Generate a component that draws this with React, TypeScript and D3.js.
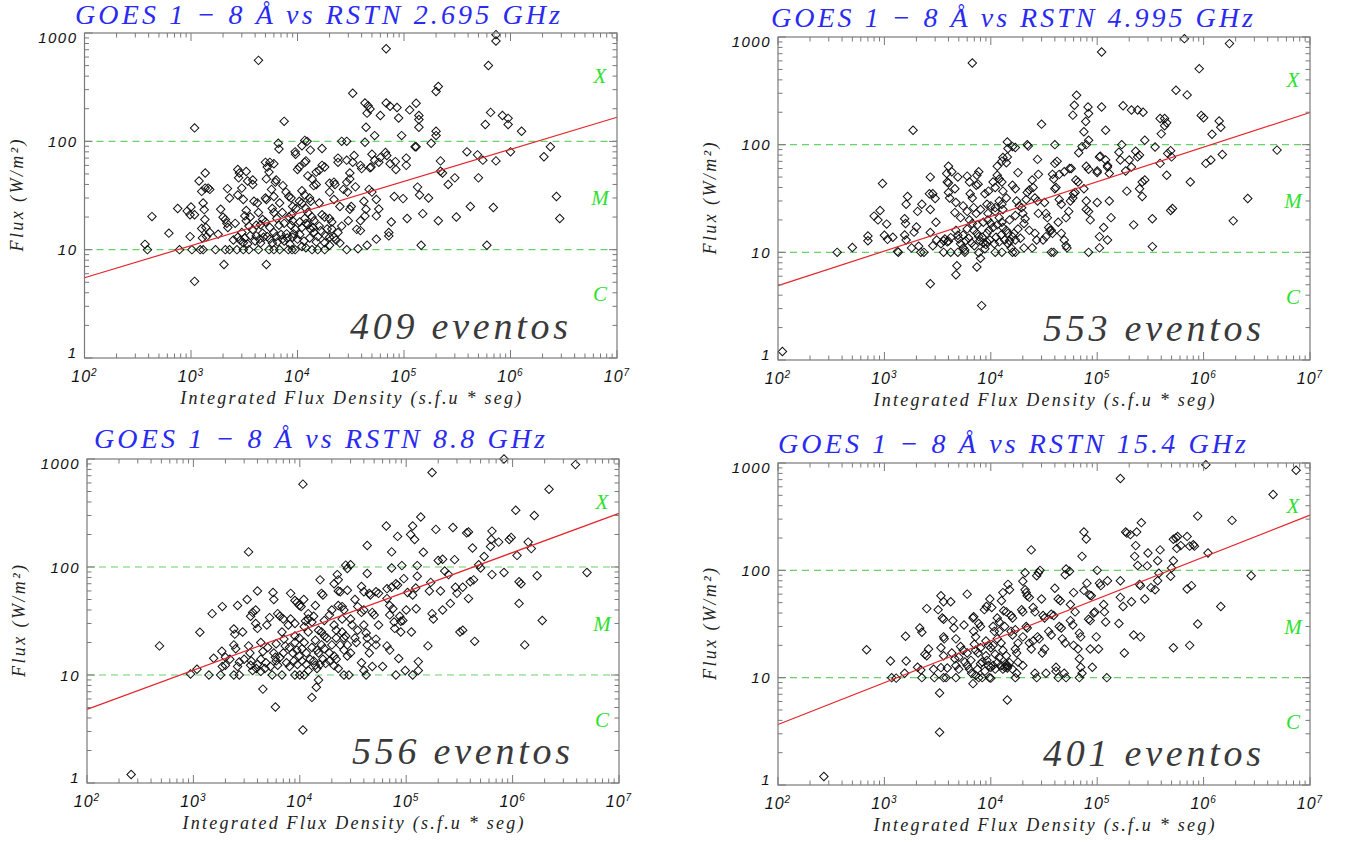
import React from 'react';
import * as d3 from 'd3';

const W = 1349;
const H = 841;

// ---- chart text ----
const titles = [
  'GOES 1 \u2212 8 \u00c5 vs RSTN 2.695 GHz',
  'GOES 1 \u2212 8 \u00c5 vs RSTN 4.995 GHz',
  'GOES 1 \u2212 8 \u00c5 vs RSTN 8.8 GHz',
  'GOES 1 \u2212 8 \u00c5 vs RSTN 15.4 GHz',
];
const eventCounts = [409, 553, 556, 401];
const xTitle = 'Integrated Flux Density (s.f.u * seg)';
const yTitle = 'Flux (W/m\u00b2)';

// ---- axes ----
const xDomain = [1e2, 1e7];
const yDomain = [1, 1000];
const xTickExponents = [2, 3, 4, 5, 6, 7];
const yTickValues = [1, 10, 100, 1000];
const yTickLabels = ['1', '10', '100', '1000'];

// GOES flare classes
const classLetters = ['X', 'M', 'C'];
const classLetterValues = [400, 30, 3.9];
const classBoundaries = [10, 100];

// fitted power laws, [x, flux] at both ends of the axis
const fitLines = [
  [[1e2, 5.5], [1e7, 167]],
  [[1e2, 4.9], [1e7, 199]],
  [[1e2, 4.8], [1e7, 314]],
  [[1e2, 3.66], [1e7, 327]],
];

// ---- events: [integrated flux density, GOES flux] ----
const events2695 = [
  [7.3e5,966],[7.3e5,843],[6.8e4,716],[4.3e3,559],[6.2e5,501],[3.3e4,278],[2.1e5,321],[2.0e5,288],[4.3e4,226],[4.6e4,213],
  [6.8e4,226],[7.4e4,211],[8.6e4,205],[1.3e5,225],[1.13e5,195],[4.8e4,199],[4.5e4,182],[6e4,173],[8.9e4,164],[1.38e5,173],
  [1.38e5,159],[1.38e5,135],[6.5e5,185],[8.4e5,173],[9.5e5,163],[9.5e5,143],[5.8e5,143],[1.27e6,124],[4.4e4,135],[7.5e3,153],
  [1.08e3,133],[2.0e5,124],[2.0e5,113],[5.3e4,113],[9.5e4,113],[1.8e5,96],[1.27e5,89],[1.3e5,89],[4.3e4,98],[2.6e4,100],
  [2.9e4,100],[1.17e4,102],[1.23e4,100],[1.1e4,91],[6.6e3,96],[6.7e3,85],[9.5e3,80],[9.6e3,76],[1.32e4,83],[1.7e4,86],
  [1e6,80],[2.37e6,89],[2.06e6,72],[3.9e5,80],[4.9e5,75],[5.5e5,67],[7.3e5,66],[2.2e5,66],[2.2e5,53],[2.3e5,51],
  [3e5,46],[2.6e5,40],[5e5,46],[4.2e5,25],[3.1e5,20],[2.1e5,18.5],[6.9e5,24.5],[2.7e6,31],[2.9e6,19.4],[6e5,11],
  [1.45e5,11],[1.5e5,21.5],[1.7e5,30],[1.07e5,19.4],[9.8e4,29.6],[8.1e4,31],[1.34e5,37.8],[1.4e5,32],[1.05e5,70],[1.05e5,60],
  [8.3e4,65],[8.4e4,55],[7.4e4,62],[6.7e4,79],[6.9e4,74],[6e4,71],[5.8e4,64],[5e4,76],[5.3e4,67],[4.8e4,57],
  [4.9e4,58],[3.9e4,60],[4e4,56],[3.4e4,74],[3.3e4,64],[2.9e4,67],[3.1e4,51],[2.4e4,70],[2.4e4,64],[3.5e4,38],
  [2.9e4,42],[3.1e4,45],[4.2e4,28],[4.4e4,23.6],[4.3e4,20.5],[4.7e4,36],[5e4,34],[5.5e4,29],[5.8e4,23.7],[5.5e4,20.5],
  [7.2e4,14.4],[7.2e4,13.4],[7.6e4,18],[5.5e4,12.5],[4.5e4,11],[3.7e4,10.2],[2.9e4,10],[3.6e4,15.4],[3.9e4,15],[3.9e4,18.5],
  [3.1e4,23.6],[3.2e4,25],[2.6e4,16.5],[3e4,18.5],[2.4e4,14.4],[2.3e4,12.3],[2.1e4,15.5],[2e4,19.4],[2.1e4,18],[2.5e4,25],
  [2.5e4,11.5],[1.85e4,13.4],[1.8e4,11.6],[1.8e4,10],[1.55e4,10],[1.37e4,10],[1.2e4,10.4],[9.5e3,10],[8.9e3,10],[8.2e3,10],
  [6.8e3,10],[6e3,10],[5.4e3,10],[4.3e3,10],[3.5e3,10],[3.1e3,10],[2.7e3,10],[2.3e3,10],[2.1e3,10],[1.7e3,10],
  [1.3e3,10],[1.22e3,10],[1.02e3,10],[7.8e2,10],[3.9e2,10],[3.7e2,11.2],[4.3e2,20.2],[6.2e2,14.2],[7.5e2,24],[9.2e2,22.7],
  [1e3,24.8],[9.8e2,21],[1.08e3,21],[9.8e2,13.2],[1.08e3,5.1],[2.04e3,7.3],[5.1e3,7.3],[1.19e3,43],[1.36e3,51],[1.26e3,34.5],
  [1.36e3,37],[1.3e3,27],[1.33e3,23.4],[1.45e3,37],[1.5e3,36],[1.35e3,19],[1.38e3,16],[1.26e3,15.7],[1.28e3,12.8],[1.5e3,14.4],
  [1.4e3,13.2],[1.9e3,23.6],[2e3,19.9],[2.1e3,19],[2.17e3,17.5],[2.22e3,16],[1.8e3,13.9],[2.2e3,36.6],[2.3e3,30],[2.75e3,55],
  [2.85e3,51],[2.8e3,46],[2.75e3,32],[3e3,37],[3.3e3,52.7],[3.4e3,43],[3.8e3,44],[3.8e3,40],[3.3e3,23],[3.6e3,20],
  [3.3e3,18.5],[3.1e3,29],[3.9e3,28],[4.2e3,27],[4.3e3,22],[3.8e3,15.3],[4.1e3,16.8],[3e3,14.4],[2.75e3,13],[2.5e3,12.3],
  [3.1e3,11.6],[3.4e3,11.3],[4.1e3,13.4],[4.4e3,12.5],[4.7e3,14.2],[5.2e3,13.2],[4.7e3,19],[5e3,18],[5e3,64],[5.2e3,58],
  [5.1e3,45],[5.5e3,64],[6e3,62],[5.4e3,52],[5e3,30],[5.1e3,29],[5.7e3,36],[6.3e3,44],[6.2e3,42],[6e3,31],
  [6.8e3,27],[7.3e3,39],[7.8e3,34],[8.3e3,31],[8.7e3,30],[6e3,22],[6.4e3,19.4],[6.7e3,16.8],[6e3,14.4],[6.3e3,13.2],
  [5.8e3,11.5],[7.2e3,12.5],[7.9e3,14],[7.5e3,12],[8.7e3,16.8],[9.5e3,15.5],[9.2e3,14],[1e4,12.5],[1.1e4,10.7],[8.3e3,20],
  [8.8e3,21],[9e3,25],[9.7e3,24],[1.04e4,28],[1.1e4,27],[1e4,55],[1.04e4,58],[1.1e4,35],[1.17e4,32],[1.17e4,64],
  [1.2e4,66],[1.25e4,48],[1.37e4,45],[1.5e4,52],[1.6e4,54],[1.7e4,60],[1.8e4,58],[1.3e4,30],[1.33e4,28],[1.42e4,39],
  [1.5e4,40],[1.6e4,27],[1.7e4,21],[1.8e4,20],[1.25e4,22],[1.37e4,20],[1.43e4,18.5],[1.17e4,19.4],[1.2e4,17.5],[1.1e4,16],
  [1.32e4,15.5],[1.43e4,14.4],[1.55e4,13.2],[1.65e4,15],[1.9e4,15.5],[2e4,41],[2.2e4,42],[2.25e4,40],[2e4,34],[2.2e4,29],
  [2.7e4,36],[2.95e4,34],[2e4,11],[2e4,13],[2.2e4,13],
  [2.9e3,12.2],[3.2e3,12.8],[3.6e3,13.5],[4e3,12],[4.5e3,11.5],[4.8e3,13],[5.5e3,12.5],[6.5e3,11.8],[7e3,13.8],[8e3,12.8],
  [8.5e3,11.2],[9e3,13],[1.05e4,13.8],[1.15e4,12],[1.3e4,12.8],[1.5e4,11.8],[1.6e4,16.5],[1.4e4,16],[1.25e4,17],[1.05e4,18],
  [9e3,18.5],[7.5e3,17.5],[5.5e3,16],[4.5e3,17],[3.5e3,16.5],[2.6e3,17.5],[3.2e3,20.5],[5.8e3,24],[7.2e3,22],[1.2e4,24],
];

const events4995 = [
  [1.1e2,1.2],[3.6e2,10],[5e2,11.1],[7e2,12.8],[7e2,14.2],[8e2,21.7],[8.7e2,20],[9.1e2,24.5],[9.6e2,43.6],[1e3,14.4],
  [1.07e3,13.2],[1.05e3,18.3],[1.2e3,13.8],[1.35e3,10],[1.33e3,10.2],[1.6e3,28],[1.65e3,33],[1.55e3,20.5],[1.58e3,18.5],[1.6e3,13],
  [1.55e3,14.5],[1.86e3,136],[2e3,17.2],[1.9e3,15.4],[2.1e3,11.4],[1.8e3,11],[2.05e3,24],[2.25e3,28],[2.35e3,10],[2.2e3,10],
  [2.7e3,50],[2.65e3,35],[2.7e3,5.1],[2.85e3,35],[3e3,31.6],[3.05e3,19],[2.7e3,25],[2.7e3,15.3],[3.6e3,10],[4.2e3,10],
  [4.9e3,10],[5.7e3,10],[2.85e3,11.5],[3.1e3,13],[4e3,63],[3.85e3,54],[3.9e3,45],[4e3,44],[4.3e3,56],[4.6e3,39],
  [4e3,36],[4.1e3,32],[4.7e3,29],[4.6e3,23.4],[4.8e3,7.5],[4.7e3,6.2],[4.9e3,50],[3.7e3,13.3],[3.6e3,12.8],[4e3,12.7],
  [4.2e3,13.7],[3.4e3,12],[3.9e3,12.5],[4.7e3,16],[4.9e3,14.4],[5e3,13.3],[5.5e3,11],[5.7e3,10.5],[6e3,51],[6.3e3,45],
  [6.4e3,35],[6.7e3,32],[6.7e3,574],[6.9e3,26],[7.3e3,23],[6.3e3,20],[6.7e3,18.5],[6.9e3,16],[7.4e3,15],[7.7e3,14],
  [7.4e3,52],[7.7e3,56],[7.3e3,42],[7.6e3,43],[7.4e3,7.3],[8.2e3,3.2],[8e3,8.8],[7.7e3,9.9],[8.5e3,12.2],[9.2e3,12.5],
  [8.8e3,10.8],[9.2e3,15],[9.6e3,16],[9.4e3,20],[1e4,18.5],[1.05e4,17],[9.4e3,23],[1e4,27],[9.2e3,28],[8.8e3,35],
  [9.5e3,37],[1.05e4,45],[1.1e4,40],[1.15e4,52],[1.2e4,48],[1.27e4,45],[1.15e4,63],[1.27e4,70],[1.3e4,76],[1.4e4,68],
  [1.43e4,77],[1.43e4,106],[1.45e4,92],[1.6e4,96],[1.7e4,94],[1.8e4,55],[1.6e4,42],[1.7e4,39],[1.3e4,37],[1.4e4,32],
  [1.2e4,30],[1.27e4,28],[1.3e4,25],[1.1e4,24],[1.2e4,21],[1.27e4,19],[1.3e4,17],[1.4e4,16],[1.45e4,15],[1.6e4,14],
  [1.7e4,13],[1.27e4,10],[1.1e4,10],[1.6e4,10],[1.7e4,10],[1.45e4,12],[1.55e4,11],[1.75e4,30],[1.85e4,27],[1.95e4,26],
  [2e4,23],[2.1e4,20.5],[2.05e4,18.5],[2.15e4,31],[2.2e4,36],[2.3e4,38],[2.2e4,100],[2.25e4,97],[2.45e4,47],[2.5e4,40],
  [2.6e4,32],[2.75e4,30],[2.8e4,23],[2.3e4,16],[2.6e4,15],[2.7e4,13],[2.05e4,11],[2.45e4,11],[2.8e4,53],[3e4,155],
  [2.75e4,73],[3.2e4,29],[3.3e4,23],[3.4e4,21],[3.5e4,17],[3.6e4,16],[3.1e4,13],[3.3e4,14],[3.8e4,53],[3.9e4,48],
  [4e4,67],[4.2e4,70],[4e4,100],[4e4,39],[4.1e4,40],[4.4e4,31],[4.6e4,28],[4.3e4,19],[3.8e4,15],[3.7e4,16],
  [3.9e4,10],[3.7e4,10],[4.4e4,53],[4.9e4,56],[4.6e4,15],[4.9e4,13],[5.1e4,11.5],[5.2e4,11],[5.1e4,21],[5.4e4,24],
  [5.6e4,30],[5.9e4,32],[6e4,35],[6.2e4,36],[6.3e4,47],[6.6e4,45],[6.7e4,84],[7.2e4,96],[5.5e4,60],[5.7e4,60],
  [6.4e4,288],[6.1e4,232],[5.9e4,188],[7.5e4,132],[7.8e4,164],[8.2e4,224],[8.3e4,195],[7.9e4,100],[8.3e4,110],[7.9e4,63],
  [8.3e4,59],[7.9e4,25],[8.3e4,24],[8.6e4,20],[8.3e4,10],[7.9e4,30],[7.5e4,39],[1e5,29],[1.05e5,77],[1.07e5,78],
  [1e5,57],[1e5,55],[1.1e5,224],[1.2e5,136],[1.1e5,725],[1.2e5,72],[1.25e5,64],[1.25e5,62],[1.3e5,54],[1.05e5,11],
  [1.05e5,14],[1.15e5,17],[1.25e5,13],[1.3e5,30],[1.35e5,21],[1.6e5,85],[1.65e5,72],[1.7e5,100],[1.75e5,230],[1.85e5,57],
  [1.9e5,37],[2e5,72],[2.1e5,62],[2.1e5,210],[2.4e5,210],[2.7e5,200],[2.2e5,18],[2.3e5,87],[2.4e5,77],[2.5e5,80],
  [2.5e5,39],[2.65e5,33],[2.65e5,45],[2.8e5,47],[2.8e5,110],[3.3e5,20.5],[3.3e5,11.3],[3.5e5,95],[3.9e5,67],[4e5,126],
  [3.9e5,175],[4.3e5,175],[4.3e5,150],[4.5e5,160],[4.5e5,52],[4.6e5,83],[4.9e5,88],[5e5,77],[4.9e5,24.5],[5.1e5,25.5],
  [5.5e5,320],[7e5,290],[6.6e5,965],[7.5e5,45],[9.1e5,508],[9.5e5,187],[1e6,178],[1.05e6,67],[1.17e6,72],[1.2e6,125],
  [1.4e6,166],[1.45e6,145],[1.5e6,81],[1.75e6,868],[1.9e6,19.6],[2.6e6,31.6],[4.9e6,89],
  [5.2e3,12],[5.8e3,12.8],[6.2e3,13.5],[6.6e3,12.2],[7e3,11.5],[7.9e3,12.8],[8.3e3,13.8],[9e3,11.8],[9.8e3,13],[1.08e4,12],
  [1.12e4,13.8],[1.2e4,12.5],[1.25e4,14.5],[1.35e4,13],[1.5e4,12.8],[1.65e4,15],[1.8e4,16.5],[1.9e4,13.5],[5.5e3,14.5],[6e3,16.5],
  [7.5e3,18],[8.5e3,19],[1.15e4,18],[1.5e4,20],[1.7e4,22],[1.1e4,26],[8e3,25],[6e3,24],[5.2e3,21],[5.5e3,27],
];

const events88 = [
  [2.6e2,1.2],[4.8e2,18.6],[9.4e2,10.2],[1.08e3,11.3],[1.15e3,24.9],[1.4e3,10],[1.55e3,14.3],[1.5e3,37],[1.87e3,43],[1.85e3,16.6],
  [1.87e3,12],[1.8e3,10],[2e3,14.6],[2.2e3,14],[2e3,12.3],[2.4e3,26.7],[2.45e3,23.9],[2.6e3,44],[2.4e3,19],[2.5e3,17.5],
  [2.4e3,10],[2.7e3,10],[2.7e3,13.2],[2.6e3,12],[3.2e3,50],[3.3e3,138],[2.9e3,25],[3.3e3,18.6],[3.4e3,16],[3.45e3,35],
  [3.6e3,38],[3.85e3,40],[4e3,60],[3.85e3,30],[4e3,27],[3.45e3,12.3],[3.6e3,11],[3.9e3,11.5],[4.3e3,10.8],[4.7e3,11.5],
  [4.3e3,20],[4.3e3,14],[4.5e3,7.4],[4.9e3,29],[5.2e3,34],[5.6e3,58],[5.7e3,50],[5.9e3,5.06],[6.2e3,37],[6.5e3,35],
  [5.7e3,16],[5.9e3,14.6],[6.2e3,12.3],[5.5e3,10],[6.8e3,10],[6.8e3,25],[7.1e3,21.5],[7.3e3,18.6],[7.8e3,29],[8.2e3,33],
  [8.2e3,57],[9e3,49],[9.4e3,47],[9.9e3,44],[1.03e4,43],[1.09e4,50],[1.07e4,585],[1.07e4,3.1],[9e3,10],[1e4,10],
  [1.1e4,10],[8.6e3,16],[9.4e3,17],[9.9e3,15],[9e3,23],[9.9e3,22],[1.1e4,20],[1.13e4,31.6],[1.2e4,33],[1.2e4,37],
  [1.3e4,31],[1.4e4,44],[1.3e4,6.2],[1.43e4,7.7],[1.5e4,9],[1.25e4,14],[1.4e4,12.3],[1.45e4,11.5],[1.45e4,17],[1.5e4,16],
  [1.6e4,19],[1.5e4,26],[1.6e4,25],[1.55e4,76],[1.6e4,57],[1.65e4,55],[1.7e4,23],[1.8e4,22],[1.9e4,36],[2e4,40],
  [2.1e4,29],[1.9e4,16],[2.1e4,15],[2.2e4,14],[2.1e4,70],[2.3e4,76],[2.25e4,85],[2.3e4,60],[2.4e4,59],[2.3e4,44],
  [2.5e4,43],[2.6e4,40],[2.5e4,25],[2.6e4,22],[2.7e4,23],[2.4e4,19],[2.6e4,17],[2.8e4,15],[2.7e4,104],[2.8e4,97],
  [3e4,105],[2.8e4,61],[2.9e4,10],[2.6e4,10],[3e4,33],[3.1e4,29],[3.3e4,22],[3.4e4,20],[3.3e4,50],[3.5e4,43],
  [3.8e4,66],[4e4,59],[3.8e4,38],[4e4,40],[4e4,29],[4.2e4,24.5],[4.3e4,22],[4.3e4,19],[4.5e4,16],[3.8e4,13],
  [4e4,11],[4.2e4,10],[4.3e4,158],[4.3e4,87],[4.5e4,57],[4.6e4,55],[4.8e4,38],[5e4,36],[5.2e4,59],[5.5e4,57],
  [5.5e4,29],[5.2e4,21.5],[5.2e4,19],[4.8e4,12],[6e4,12],[6.5e4,240],[6.6e4,51],[6.6e4,18.6],[7e4,17],[6.6e4,63],
  [7.3e4,65],[7e4,44],[7.5e4,41],[7.3e4,138],[7.3e4,98],[7e4,36],[7.7e4,31],[7.8e4,27],[8e4,70],[8.3e4,68],
  [8.3e4,192],[8.5e4,14.2],[8e4,10],[8.7e4,35],[8.9e4,31.5],[9.3e4,32],[8.9e4,25],[9.5e4,78],[9.1e4,103],[9.8e4,11],
  [1e5,40],[1.03e5,58],[1.1e5,200],[1.15e5,55],[1.12e5,25],[1.15e5,240],[1.15e5,10],[1.2e5,180],[1.23e5,64],[1.27e5,103],
  [1.24e5,41],[1.27e5,82],[1.3e5,13.3],[1.3e5,11],[1.37e5,290],[1.45e5,137],[1.6e5,18.6],[1.65e5,60],[1.7e5,72],[1.75e5,37],
  [1.8e5,33],[1.75e5,751],[1.9e5,223],[2e5,115],[2.1e5,60],[2.2e5,40],[2.2e5,118],[2.3e5,92],[2.5e5,85],[2.6e5,46],
  [2.75e5,232],[2.85e5,117],[2.9e5,65],[3e5,57],[3.2e5,25],[3.4e5,26],[3.4e5,65],[3.7e5,207],[3.85e5,211],[3.85e5,51],
  [4e5,73],[4.2e5,150],[4.3e5,76],[4.4e5,20.5],[4.8e5,105],[5e5,98],[5.4e5,125],[6.2e5,155],[6.3e5,180],[6.4e5,215],
  [6.4e5,85],[7.4e5,170],[8.3e5,89],[8.3e5,1000],[9.3e5,180],[9.7e5,188],[1.07e6,335],[1.1e6,128],[1.15e6,46],[1.15e6,73],
  [1.2e6,70],[1.3e6,19],[1.4e6,170],[1.5e6,148],[1.6e6,300],[1.7e6,83],[1.9e6,32],[2.2e6,525],[3.9e6,887],[5e6,89],
  [3e3,14],[3.5e3,13.5],[4e3,12.5],[4.8e3,13],[5.3e3,12],[6e3,13.5],[6.5e3,14.5],[7.5e3,13],[8e3,12],[8.8e3,13.5],
  [9.5e3,12.5],[1.05e4,13.5],[1.15e4,12.5],[1.2e4,11],[1.35e4,13.5],[1.55e4,12.5],[1.65e4,14],[1.75e4,12.8],[1.9e4,13.5],[2.1e4,12.2],
  [2.3e4,11.5],[4.5e3,16.5],[5e3,18],[6e3,19.5],[7e3,16],[8e3,18],[9e3,20],[1.05e4,17.5],[1.15e4,16],[1.3e4,18],
  [1.4e4,21],[1.7e4,17.5],[2e4,19],[2.2e4,22],[2.8e4,19],[3e4,16],[1.2e4,25],[1.1e4,28],[9e3,30],[7e3,33],
  [1.35e4,35],[1.7e4,32],[2.2e4,26],[2.5e4,33],[3.5e4,26],
];

const events154 = [
  [2.7e2,1.2],[6.8e2,18.2],[1.14e3,14.3],[1.17e3,10],[1.29e3,9.9],[1.58e3,24.3],[1.6e3,14.3],[1.55e3,11],[2.15e3,29],[2.25e3,26.5],
  [2.05e3,12.5],[2.2e3,11.8],[2.25e3,10],[2.5e3,44],[2.6e3,18.5],[2.5e3,16],[2.4e3,16.5],[2.9e3,12],[2.95e3,10],[3.2e3,43],
  [3.3e3,3.1],[3.3e3,7.2],[3.4e3,58],[3.6e3,51],[3.5e3,36],[3.6e3,35],[3.6e3,24],[3.65e3,23],[3.4e3,19],[3.6e3,16],
  [3.4e3,12.4],[3.9e3,12.3],[3.6e3,10],[3.8e3,10],[4.2e3,51],[4.4e3,34],[4.5e3,29],[4.7e3,23],[4.3e3,17],[4.6e3,15],
  [4.7e3,13],[5e3,12],[4.7e3,10],[5.2e3,19.5],[5.5e3,18],[5.7e3,14],[5.6e3,31],[6e3,60],[6.3e3,12],[6.6e3,11],
  [6.8e3,36],[6.9e3,37],[6.8e3,8.8],[6.9e3,27],[7.2e3,24],[7.2e3,18],[7.6e3,17],[7.2e3,10.5],[7.7e3,10],[8.3e3,10],
  [7.7e3,32],[8e3,30],[8.3e3,14],[9e3,16],[8.7e3,43],[9.1e3,46],[9.5e3,20],[1e4,19],[9.7e3,10],[1e4,9.9],
  [9.5e3,13],[1e4,12.5],[1.05e4,13],[9.8e3,54],[1.02e4,45],[1.05e4,30],[1.08e4,27],[1.15e4,36],[1.2e4,33],[1.15e4,23],
  [1.25e4,21],[1.1e4,16.5],[1.2e4,15.5],[1.26e4,52],[1.3e4,62],[1.32e4,42],[1.4e4,41],[1.35e4,12.5],[1.43e4,12.3],[1.4e4,13],
  [1.45e4,74],[1.5e4,66],[1.43e4,6.2],[1.55e4,38],[1.6e4,36],[1.55e4,27],[1.6e4,25],[1.7e4,18.5],[1.75e4,17],[1.7e4,10],
  [1.75e4,11],[1.95e4,43],[2e4,41],[2e4,79],[2.1e4,66],[2.1e4,95],[2.15e4,62],[2.15e4,30],[2.2e4,29],[2.3e4,21],
  [2.4e4,18.5],[2.2e4,58],[2.3e4,56],[2.4e4,155],[2.5e4,45],[2.6e4,41],[2.6e4,11],[2.7e4,10],[2.7e4,89],[2.8e4,95],
  [2.75e4,24],[2.85e4,23],[2.9e4,100],[3e4,54],[3.05e4,17],[3.2e4,18.5],[3.3e4,11],[3.1e4,38],[3.2e4,36],[3.5e4,27],
  [3.7e4,25],[3.7e4,39],[3.9e4,38],[4e4,68],[4.1e4,12.5],[4.3e4,10],[4.1e4,11.5],[4.3e4,54],[4.5e4,52],[4.4e4,30],
  [4.6e4,29],[4.7e4,23],[5e4,21],[4.9e4,11],[5.1e4,10],[5e4,91],[5.1e4,103],[5.5e4,98],[5.6e4,48],[5.6e4,34],
  [5.9e4,31],[6e4,62],[6.2e4,41],[6e4,20],[6.6e4,18.5],[6.8e4,15],[7e4,12.5],[6.8e4,10],[7.2e4,11],[6.8e4,26],
  [7e4,24],[7.2e4,135],[7.5e4,65],[7.5e4,228],[7.9e4,196],[8e4,76],[8.3e4,35],[8.6e4,34],[8.5e4,59],[8.8e4,58],
  [8.6e4,18.5],[9e4,12.5],[9.3e4,40],[9.5e4,41],[1e5,100],[1.03e5,18.5],[9.8e4,24],[1.05e5,76],[1.08e5,72],[1.15e5,48],
  [1.17e5,41],[1.2e5,33],[1.23e5,10],[1.25e5,80],[1.6e5,32],[1.65e5,80],[1.65e5,716],[1.75e5,46],[1.8e5,17],[1.85e5,228],
  [1.9e5,222],[1.65e5,56],[2.1e5,51],[2.2e5,25],[2.05e5,215],[2.3e5,170],[2.25e5,135],[2.35e5,228],[2.4e5,111],[2.5e5,74],
  [2.55e5,72],[2.6e5,278],[2.55e5,24],[2.8e5,54],[2.95e5,110],[3e5,145],[3.2e5,69],[3.5e5,66],[3.7e5,123],[3.7e5,80],
  [3.8e5,94],[3.9e5,155],[4.9e5,88],[5e5,105],[5.2e5,123],[5.2e5,19],[5.2e5,195],[5.5e5,200],[5.7e5,207],[5.6e5,160],
  [6.1e5,170],[7e5,207],[7.4e5,168],[7.4e5,20],[7.7e5,72],[7e5,67],[8e5,173],[8.2e5,168],[8.8e5,320],[8.8e5,31.6],
  [1.05e6,965],[1.1e6,145],[1.45e6,46],[1.85e6,292],[2.8e6,89],[4.5e6,508],[7.4e6,855],
  [6e3,13],[6.5e3,14.5],[7.5e3,12],[8e3,13.5],[8.8e3,11.5],[9.2e3,14.5],[1.1e4,12],[1.15e4,13.8],[1.25e4,13],[1.3e4,12],
  [1.38e4,13.5],[1.45e4,12.8],[1.5e4,13.8],[1.6e4,12],[1.8e4,14],[2e4,13],[5e3,15.5],[6e3,17],[7e3,20.5],[8e3,19],
  [9e3,22],[1.05e4,20],[1.3e4,18],[1.4e4,16],[1.8e4,21],[2e4,24],[2.5e4,22],[1.2e4,27],[1.35e4,30],[1.7e4,28],
];

const eventSets = [events2695, events4995, events88, events154];

// ---- layout (page pixels) ----
const boxes = [
  { x0: 84.5, x1: 617, y0: 33, y1: 358, tx: 75, tw: 485, ty: 24 },
  { x0: 778, x1: 1310, y0: 37, y1: 360, tx: 771, tw: 482, ty: 26.5 },
  { x0: 87, x1: 619, y0: 459, y1: 783, tx: 94, tw: 451, ty: 448 },
  { x0: 778, x1: 1310, y0: 463, y1: 785, tx: 778, tw: 468, ty: 453 },
];

const serif = "'Liberation Serif', 'DejaVu Serif', serif";
const sans = "'Liberation Sans', 'DejaVu Sans', sans-serif";
const axisColor = '#7a7a7a';

function Panel({ i }: { i: number }) {
  const b = boxes[i];
  const x = d3.scaleLog().domain(xDomain).range([b.x0, b.x1]);
  const y = d3.scaleLog().domain(yDomain).range([b.y1, b.y0]);

  const minorX: number[] = [];
  for (let e = 2; e < 7; e++) for (let k = 2; k < 10; k++) minorX.push(k * Math.pow(10, e));
  const minorY: number[] = [];
  for (let e = 0; e < 3; e++) for (let k = 2; k < 10; k++) minorY.push(k * Math.pow(10, e));
  const majorX = xTickExponents.map((e) => Math.pow(10, e));

  const fit = d3.line<number[]>().x((d) => x(d[0])).y((d) => y(d[1]))(fitLines[i]) || '';
  const diamond = d3.symbol().type(d3.symbolSquare).size(36)() || '';

  const majLen = 8;
  const minLen = 4.5;

  return (
    <g>
      {/* title */}
      <text x={b.tx} y={b.ty} textLength={b.tw} lengthAdjust="spacing"
        fontFamily={serif} fontStyle="italic" fontSize={28} fill="#2a2af2">{titles[i]}</text>

      {/* class boundaries */}
      {classBoundaries.map((v) => (
        <line key={'cb' + v} x1={b.x0} x2={b.x1} y1={y(v)} y2={y(v)}
          stroke="#66d466" strokeWidth={1.1} strokeDasharray="7 5" />
      ))}
      {classLetters.map((c, k) => (
        <text key={c} x={b.x1 - 17} y={y(classLetterValues[k])} dy="0.35em" textAnchor="middle"
          fontFamily={serif} fontStyle="italic" fontSize={21} fill="#2fe02f">{c}</text>
      ))}

      {/* events */}
      {eventSets[i].map((d, k) => (
        <path key={k} d={diamond} transform={`translate(${x(d[0])},${y(d[1])}) rotate(45)`}
          fill="none" stroke="#111" strokeWidth={1} />
      ))}

      {/* fit */}
      <path d={fit} fill="none" stroke="#e3262b" strokeWidth={1.2} />

      {/* frame and ticks */}
      <rect x={b.x0} y={b.y0} width={b.x1 - b.x0} height={b.y1 - b.y0} fill="none" stroke={axisColor} strokeWidth={1.2} />
      {majorX.concat(minorX).map((v, k) => {
        const len = k < majorX.length ? majLen : minLen;
        return (
          <g key={'xt' + k} stroke={axisColor} strokeWidth={1}>
            <line x1={x(v)} x2={x(v)} y1={b.y1} y2={b.y1 - len} />
            <line x1={x(v)} x2={x(v)} y1={b.y0} y2={b.y0 + len} />
          </g>
        );
      })}
      {yTickValues.concat(minorY).map((v, k) => {
        const len = k < yTickValues.length ? majLen : minLen;
        return (
          <g key={'yt' + k} stroke={axisColor} strokeWidth={1}>
            <line x1={b.x0} x2={b.x0 + len} y1={y(v)} y2={y(v)} />
            <line x1={b.x1} x2={b.x1 - len} y1={y(v)} y2={y(v)} />
          </g>
        );
      })}

      {/* tick labels */}
      {xTickExponents.map((e) => (
        <text key={'xl' + e} x={x(Math.pow(10, e))} y={b.y1 + 24} textAnchor="middle"
          fontFamily={sans} fontStyle="italic" fontSize={16} fill="#111" letterSpacing={1}>
          10<tspan dy={-6} fontSize={10}>{e}</tspan>
        </text>
      ))}
      {yTickValues.map((v, k) => {
        const shift = k === yTickValues.length - 1 ? 10 : k === 0 ? 0 : 5.5;
        return (
          <text key={'yl' + v} x={b.x0 - 7} y={y(v) + shift} textAnchor="end"
            fontFamily={sans} fontStyle="italic" fontSize={15} fill="#111" letterSpacing={1.5}>
            {yTickLabels[k]}
          </text>
        );
      })}

      {/* axis titles */}
      <text x={(b.x0 + b.x1) / 2} y={b.y1 + 46} textAnchor="middle" textLength={341} lengthAdjust="spacing"
        fontFamily={serif} fontStyle="italic" fontSize={18} fill="#222">{xTitle}</text>
      <text transform={`translate(${b.x0 - 62},${(b.y0 + b.y1) / 2}) rotate(-90)`} textAnchor="middle"
        textLength={112} lengthAdjust="spacing"
        fontFamily={serif} fontStyle="italic" fontSize={18} fill="#222">{yTitle}</text>

      {/* event count */}
      <text x={b.x1 - 49} y={b.y1 - 19} textAnchor="end" textLength={218} lengthAdjust="spacing"
        fontFamily={serif} fontStyle="italic" fontSize={38} fill="#3a3a3a">{`${eventCounts[i]} eventos`}</text>
    </g>
  );
}

export default function App() {
  return (
    <div style={{ position: 'absolute', left: 0, top: 0, width: W, height: H, background: '#fff' }}>
      <svg width={W} height={H} viewBox={`0 0 ${W} ${H}`} style={{ display: 'block' }}>
        <rect width={W} height={H} fill="#fff" />
        {boxes.map((_, i) => <Panel key={i} i={i} />)}
      </svg>
    </div>
  );
}
